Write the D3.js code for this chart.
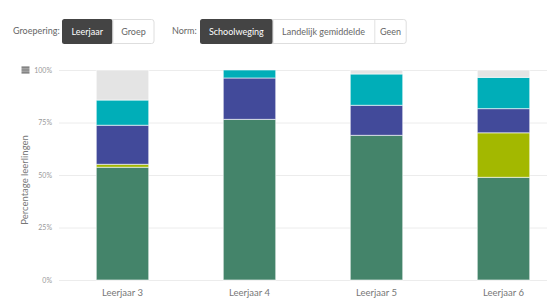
<!DOCTYPE html>
<html><head><meta charset="utf-8">
<script src="https://cdn.jsdelivr.net/npm/d3@7"></script>
<style>body{margin:0;background:#fff;}svg{display:block;font-family:Lato,"Open Sans",sans-serif;}</style>
</head><body><svg id="c" width="547" height="304"></svg>
<script>
const categories = ["Leerjaar 3","Leerjaar 4","Leerjaar 5","Leerjaar 6"];
const seriesNames = ["s1","s2","s3","s4","s5"];
const green = [53.7, 76.5, 68.9, 48.9];
const yellow = [1.4, 0, 0, 21.2];
const blue = [18.6, 19.7, 14.3, 11.5];
const teal = [12.0, 3.8, 14.9, 14.9];
const grey = [14.3, 0, 1.9, 3.5];
const colors = ["#44846a","#a3b800","#424a9a","#00aeb8","#e4e4e4"];
const yTicks = [0,25,50,75,100];
const groepButtons = ["Leerjaar","Groep"];
const normButtons = ["Schoolweging","Landelijk gemiddelde","Geen"];

const svg = d3.select("#c");
const rows = categories.map((c,i)=>({cat:c, s1:green[i], s2:yellow[i], s3:blue[i], s4:teal[i], s5:grey[i]}));
const stack = d3.stack().keys(seriesNames)(rows);

const x = d3.scaleBand().domain(categories).range([59,567]).paddingInner(0.587).paddingOuter(0.2935);
const y = d3.scaleLinear().domain([0,100]).range([280,70]);

// gridlines
svg.append("g").selectAll("line").data(yTicks).join("line")
  .attr("x1",59).attr("x2",547).attr("y1",d=>y(d)+0.5).attr("y2",d=>y(d)+0.5)
  .attr("stroke","#ececec").attr("stroke-width",1);

// y axis labels
const yAxis = d3.axisLeft(y).tickValues(yTicks).tickFormat(d=>d+"%").tickSize(0).tickPadding(0);
const ya = svg.append("g").attr("transform","translate(52,0)").call(yAxis);
ya.select(".domain").remove();
ya.selectAll("text").attr("fill","#999").style("font-size","7px").style("font-family","Lato, sans-serif");

// bars
svg.append("g").selectAll("g").data(stack).join("g").attr("fill",(d,i)=>colors[i])
  .selectAll("rect").data(d=>d).join("rect")
  .attr("x",d=>x(d.data.cat)).attr("width",x.bandwidth())
  .attr("y",d=>y(d[1])).attr("height",d=>y(d[0])-y(d[1]))
  .attr("stroke","rgba(255,255,255,0.6)").attr("stroke-width",1);

// x axis labels
const xAxis = d3.axisBottom(x).tickSize(0).tickPadding(0);
const xa = svg.append("g").attr("transform","translate(0,289)").call(xAxis);
xa.select(".domain").remove();
xa.selectAll("text").attr("fill","#777").style("font-size","9.5px").style("font-family","Lato, sans-serif");

// y title
svg.append("text").attr("transform","translate(28,180) rotate(-90)").attr("text-anchor","middle")
  .attr("fill","#777").style("font-size","9.5px").text("Percentage leerlingen");

// hamburger
[0,1.9,3.8,5.7].forEach(o=>svg.append("rect").attr("x",21.5).attr("y",66.5+o).attr("width",8).attr("height",1.3).attr("fill","#666"));

// buttons
function group(label, lx, buttons, bx, widths){
  svg.append("text").attr("x",lx).attr("y",34).attr("fill","#666").style("font-size","9px").text(label);
  const total = d3.sum(widths);
  svg.append("rect").attr("x",bx+0.5).attr("y",19.5).attr("width",total-1).attr("height",24)
    .attr("rx",2.5).attr("fill","#fff").attr("stroke","#dedede");
  let cx = bx;
  buttons.forEach((b,i)=>{
    const w = widths[i];
    if(i===0){
      svg.append("rect").attr("x",cx).attr("y",19).attr("width",w).attr("height",25)
        .attr("rx",2.5).attr("fill","#444");
    } else {
      svg.append("line").attr("x1",cx+0.5).attr("x2",cx+0.5).attr("y1",20).attr("y2",43).attr("stroke","#e2e2e2");
    }
    svg.append("text").attr("x",cx+w/2).attr("y",34.5).attr("text-anchor","middle")
      .attr("fill", i===0?"#fff":"#666").style("font-size","9px").text(b);
    cx += w;
  });
}
group("Groepering:", 13, groepButtons, 62, [50.5,42]);
group("Norm:", 172, normButtons, 200, [72.7,101.6,32.4]);
</script></body></html>
